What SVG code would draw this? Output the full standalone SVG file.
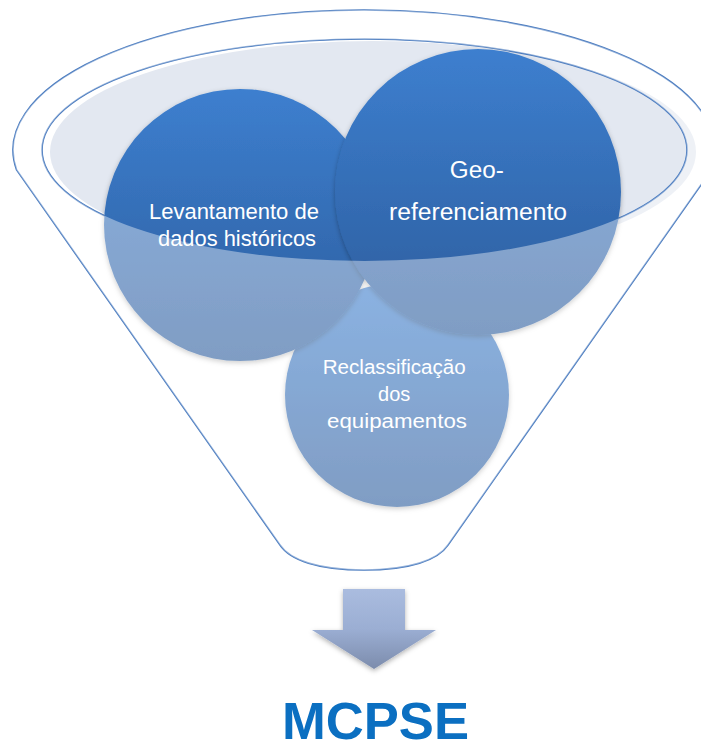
<svg xmlns="http://www.w3.org/2000/svg" width="701" height="751" viewBox="0 0 701 751">
  <defs>
    <style>
      .outline { fill: none; stroke: #4A7BBF; stroke-width: 1.6; }
      .bubble { fill: url(#bubbleFill); filter: url(#softShadow); }
      .label { fill: #FFFFFF; font-family: "Liberation Sans", Arial, sans-serif; text-anchor: middle; }
      .result { fill: #0B6FC1; font-family: "Liberation Sans", Arial, sans-serif; font-weight: bold; }
    </style>
    <linearGradient id="bubbleFill" x1="0" y1="0" x2="0" y2="1">
      <stop offset="0" stop-color="#3D7FCF"/>
      <stop offset="1" stop-color="#2C5C9C"/>
    </linearGradient>
    <linearGradient id="arrowFill" x1="0" y1="0" x2="0" y2="1">
      <stop offset="0" stop-color="#AABCDF"/>
      <stop offset="0.5" stop-color="#9BAED3"/>
      <stop offset="1" stop-color="#7C8CAC"/>
    </linearGradient>
    <filter id="softShadow" x="-10%" y="-10%" width="120%" height="125%">
      <feDropShadow dx="0" dy="2" stdDeviation="2.5" flood-color="#000000" flood-opacity="0.3"/>
    </filter>
  </defs>

  <!-- funnel body and rim -->
  <g id="funnel">
    <path d="M 16.6 170 A 351 140 0 1 1 711.4 170 L 448 545 C 438 560 410 570 364 570 C 318 570 290 560 280 545 Z" fill="#FFFFFF" stroke="#4A7BBF" stroke-width="1.6"/>
    <ellipse cx="373" cy="152" rx="323" ry="111" fill="#E3E8F1"/>
    <ellipse class="outline" cx="364.5" cy="150" rx="322.5" ry="111"/>
  </g>

  <!-- items poured into the funnel -->
  <g id="node-reclassificacao">
    <circle class="bubble" cx="397" cy="395" r="112"/>
    <text class="label" font-size="20">
      <tspan x="397" y="374" textLength="143" lengthAdjust="spacingAndGlyphs">Reclassificação</tspan>
      <tspan x="397" y="401">dos</tspan>
      <tspan x="397" y="428" textLength="140" lengthAdjust="spacingAndGlyphs">equipamentos</tspan>
    </text>
  </g>

  <g id="node-levantamento">
    <circle class="bubble" cx="240" cy="225" r="136"/>
    <text class="label" font-size="22">
      <tspan x="237" y="219" textLength="170" lengthAdjust="spacingAndGlyphs">Levantamento de</tspan>
      <tspan x="237" y="246" textLength="158" lengthAdjust="spacingAndGlyphs">dados históricos</tspan>
    </text>
  </g>

  <g id="node-georeferenciamento">
    <circle class="bubble" cx="478" cy="192" r="143"/>
    <text class="label" font-size="23">
      <tspan x="480" y="178" textLength="54" lengthAdjust="spacingAndGlyphs">Geo-</tspan>
      <tspan x="478" y="220" textLength="178" lengthAdjust="spacingAndGlyphs">referenciamento</tspan>
    </text>
  </g>

  <!-- translucent funnel wall in front of the items, open inside the rim -->
  <g id="funnel-front">
    <path fill="#FFFFFF" fill-opacity="0.4" fill-rule="evenodd"
          d="M 16.6 170 A 351 140 0 1 1 711.4 170 L 448 545 C 438 560 410 570 364 570 C 318 570 290 560 280 545 Z
             M 42 150 A 322.5 111 0 1 0 687 150 A 322.5 111 0 1 0 42 150 Z"/>
  </g>

  <g id="connectors">
    <path d="M 343 589 H 405 V 630 H 436 L 374 669 L 312 630 H 343 Z" fill="url(#arrowFill)" filter="url(#softShadow)"/>
  </g>

  <g id="node-mcpse">
    <text class="result" x="282" y="739" font-size="52" textLength="187" lengthAdjust="spacingAndGlyphs">MCPSE</text>
  </g>
</svg>
